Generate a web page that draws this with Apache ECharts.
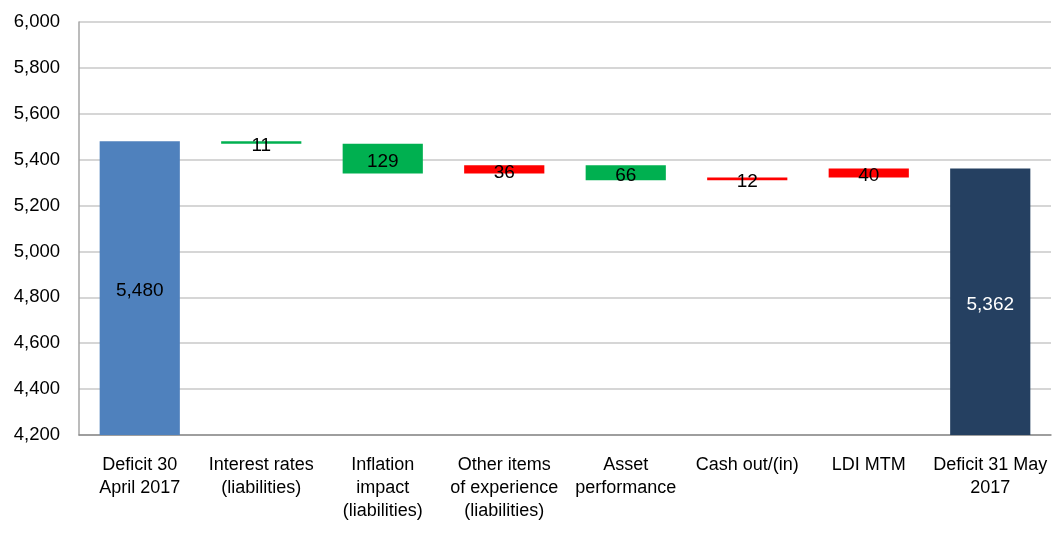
<!DOCTYPE html>
<html>
<head>
<meta charset="utf-8">
<script src="https://cdn.jsdelivr.net/npm/echarts@6/dist/echarts.min.js"></script>
<style>
html,body{margin:0;padding:0;background:#fff;}
#c{width:1054px;height:533px;}
</style>
</head>
<body>
<div id="c"></div>
<script>
const categories = ['Deficit 30\nApril 2017', 'Interest rates\n(liabilities)', 'Inflation\nimpact\n(liabilities)', 'Other items\nof experience\n(liabilities)', 'Asset\nperformance', 'Cash out/(in)', 'LDI MTM', 'Deficit 31 May\n2017'];
const startValue = 5480;
const changes = [-11, -129, 36, -66, 12, 40];
const endValue = 5362;
const yTicks = { min: 4200, max: 6000, interval: 200 };

const colStart = '#4F81BD', colEnd = '#254061', colUp = '#FF0000', colDown = '#00B050';

const baseData = [], barData = [], labels = [];
baseData.push(0);
barData.push({ value: startValue, itemStyle: { color: colStart }, label: { color: '#000' } });
labels.push(startValue);
let running = startValue;
changes.forEach(c => {
  const next = running + c;
  baseData.push(Math.min(running, next));
  barData.push({ value: Math.abs(c), itemStyle: { color: c < 0 ? colDown : colUp } });
  labels.push(Math.abs(c));
  running = next;
});
baseData.push(0);
barData.push({ value: endValue, itemStyle: { color: colEnd }, label: { color: '#fff' } });
labels.push(endValue);

const chart = echarts.init(document.getElementById('c'));
chart.setOption({
  animation: false,
  textStyle: { fontFamily: 'Liberation Sans' },
  grid: { left: 79, right: 3, top: 22, bottom: 98 },
  xAxis: {
    type: 'category',
    data: categories,
    axisTick: { show: false },
    axisLine: { lineStyle: { color: '#8c8c8c', width: 1.5 } },
    axisLabel: { color: '#000', fontSize: 18, lineHeight: 23, margin: 19, interval: 0 }
  },
  yAxis: {
    type: 'value',
    min: yTicks.min, max: yTicks.max, interval: yTicks.interval,
    axisLine: { show: true, lineStyle: { color: '#a6a6a6', width: 1.5 } },
    axisTick: { show: false },
    splitLine: { lineStyle: { color: '#c8c8c8', width: 1.5 } },
    axisLabel: {
      color: '#000', fontSize: 18.5, margin: 19,
      formatter: v => v.toLocaleString('en-US')
    }
  },
  series: [
    {
      type: 'bar', stack: 'w', data: baseData, barWidth: '66%',
      itemStyle: { color: 'transparent' }, silent: true
    },
    {
      type: 'bar', stack: 'w', data: barData, barWidth: '66%',
      label: {
        show: true, position: 'inside', color: '#000', fontSize: 19, offset: [0, 3],
        formatter: p => labels[p.dataIndex].toLocaleString('en-US')
      }
    }
  ]
});
</script>
</body>
</html>
